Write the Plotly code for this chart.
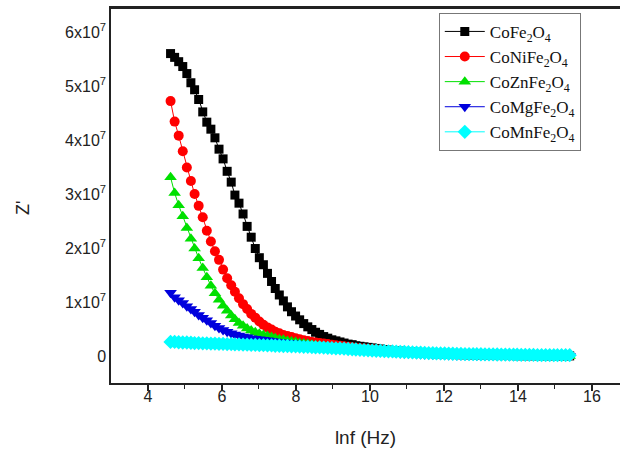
import plotly.graph_objects as go

# ln f values (shared by all series)
lnf = [4.61, 4.72, 4.83, 4.94, 5.05, 5.16, 5.26, 5.37, 5.48, 5.59,
       5.70, 5.81, 5.92, 6.03, 6.14, 6.25, 6.35, 6.46, 6.57, 6.68,
       6.79, 6.90, 7.01, 7.12, 7.23, 7.34, 7.44, 7.55, 7.66, 7.77,
       7.88, 7.99, 8.10, 8.21, 8.32, 8.43, 8.53, 8.64, 8.75, 8.86,
       8.97, 9.08, 9.19, 9.30, 9.41, 9.52, 9.62, 9.73, 9.84, 9.95,
       10.06, 10.17, 10.28, 10.39, 10.50, 10.61, 10.71, 10.82, 10.93, 11.04,
       11.15, 11.26, 11.37, 11.48, 11.59, 11.70, 11.80, 11.91, 12.02, 12.13,
       12.24, 12.35, 12.46, 12.57, 12.68, 12.79, 12.89, 13.00, 13.11, 13.22,
       13.33, 13.44, 13.55, 13.66, 13.77, 13.88, 13.98, 14.09, 14.20, 14.31,
       14.42, 14.53, 14.64, 14.75, 14.86, 14.97, 15.07, 15.18, 15.29, 15.40]

# Z' values in units of 1e7
z_cofe = [5.60, 5.53, 5.45, 5.36, 5.23, 5.06, 4.93, 4.75, 4.52, 4.33,
          4.20, 4.04, 3.83, 3.65, 3.42, 3.22, 2.98, 2.83, 2.63, 2.40,
          2.20, 1.99, 1.82, 1.69, 1.53, 1.38, 1.25, 1.13, 1.02, 0.91,
          0.82, 0.74, 0.67, 0.60, 0.54, 0.49, 0.44, 0.40, 0.36, 0.33,
          0.30, 0.28, 0.26, 0.24, 0.22, 0.21, 0.19, 0.18, 0.17, 0.16,
          0.15, 0.14, 0.13, 0.12, 0.11, 0.10, 0.095, 0.09, 0.085, 0.08,
          0.075, 0.07, 0.065, 0.06, 0.055, 0.05, 0.046, 0.042, 0.038, 0.035,
          0.032, 0.029, 0.026, 0.024, 0.022, 0.020, 0.018, 0.016, 0.015, 0.014,
          0.013, 0.012, 0.011, 0.010, 0.009, 0.008, 0.007, 0.007, 0.006, 0.006,
          0.005, 0.005, 0.004, 0.004, 0.004, 0.003, 0.003, 0.003, 0.002, 0.002]

z_conife = [4.72, 4.34, 4.08, 3.79, 3.49, 3.24, 3.00, 2.78, 2.57, 2.32,
            2.12, 1.94, 1.78, 1.60, 1.44, 1.31, 1.19, 1.07, 0.96, 0.87,
            0.78, 0.71, 0.64, 0.58, 0.53, 0.49, 0.45, 0.42, 0.39, 0.37,
            0.35, 0.33, 0.31, 0.29, 0.28, 0.26, 0.25, 0.24, 0.23, 0.22,
            0.21, 0.20, 0.19, 0.18, 0.17, 0.16, 0.15, 0.145, 0.14, 0.13,
            0.125, 0.12, 0.11, 0.10, 0.095, 0.09, 0.085, 0.08, 0.075, 0.07,
            0.065, 0.06, 0.056, 0.052, 0.048, 0.044, 0.040, 0.037, 0.034, 0.031,
            0.028, 0.026, 0.024, 0.022, 0.020, 0.018, 0.016, 0.015, 0.014, 0.013,
            0.012, 0.011, 0.010, 0.009, 0.008, 0.008, 0.007, 0.007, 0.006, 0.006,
            0.005, 0.005, 0.004, 0.004, 0.004, 0.003, 0.003, 0.003, 0.002, 0.002]

z_coznfe = [3.31, 3.02, 2.79, 2.59, 2.37, 2.17, 1.99, 1.81, 1.63, 1.46,
            1.30, 1.16, 1.04, 0.93, 0.84, 0.75, 0.68, 0.61, 0.56, 0.51,
            0.47, 0.44, 0.41, 0.39, 0.37, 0.35, 0.33, 0.31, 0.30, 0.28,
            0.27, 0.26, 0.24, 0.23, 0.22, 0.21, 0.20, 0.19, 0.18, 0.17,
            0.16, 0.15, 0.14, 0.135, 0.13, 0.12, 0.115, 0.11, 0.10, 0.095,
            0.09, 0.085, 0.08, 0.075, 0.07, 0.065, 0.06, 0.056, 0.052, 0.048,
            0.044, 0.040, 0.037, 0.034, 0.031, 0.028, 0.026, 0.024, 0.022, 0.020,
            0.018, 0.016, 0.015, 0.014, 0.013, 0.012, 0.011, 0.010, 0.009, 0.009,
            0.008, 0.008, 0.007, 0.007, 0.006, 0.006, 0.005, 0.005, 0.005, 0.004,
            0.004, 0.004, 0.003, 0.003, 0.003, 0.003, 0.002, 0.002, 0.002, 0.002]

z_comgfe = [1.17, 1.09, 1.03, 0.98, 0.92, 0.87, 0.82, 0.76, 0.71, 0.66,
            0.61, 0.56, 0.52, 0.48, 0.45, 0.42, 0.40, 0.38, 0.36, 0.345,
            0.33, 0.32, 0.31, 0.30, 0.29, 0.28, 0.27, 0.26, 0.25, 0.24,
            0.235, 0.23, 0.22, 0.21, 0.20, 0.19, 0.185, 0.18, 0.17, 0.16,
            0.155, 0.15, 0.14, 0.13, 0.125, 0.12, 0.11, 0.105, 0.10, 0.095,
            0.09, 0.085, 0.08, 0.075, 0.07, 0.065, 0.06, 0.056, 0.052, 0.048,
            0.044, 0.040, 0.037, 0.034, 0.031, 0.028, 0.026, 0.024, 0.022, 0.020,
            0.018, 0.016, 0.015, 0.014, 0.013, 0.012, 0.011, 0.010, 0.009, 0.009,
            0.008, 0.008, 0.007, 0.007, 0.006, 0.006, 0.005, 0.005, 0.005, 0.004,
            0.004, 0.004, 0.003, 0.003, 0.003, 0.003, 0.002, 0.002, 0.002, 0.002]

z_comnfe = [0.26, 0.26, 0.255, 0.25, 0.25, 0.245, 0.24, 0.24, 0.235, 0.235,
            0.23, 0.23, 0.225, 0.225, 0.22, 0.22, 0.215, 0.215, 0.21, 0.21,
            0.205, 0.205, 0.20, 0.20, 0.195, 0.195, 0.19, 0.19, 0.185, 0.185,
            0.18, 0.18, 0.175, 0.17, 0.17, 0.165, 0.16, 0.16, 0.155, 0.15,
            0.145, 0.14, 0.14, 0.135, 0.13, 0.125, 0.12, 0.115, 0.11, 0.105,
            0.10, 0.097, 0.094, 0.09, 0.087, 0.084, 0.08, 0.077, 0.074, 0.07,
            0.067, 0.064, 0.061, 0.058, 0.055, 0.052, 0.05, 0.048, 0.046, 0.044,
            0.042, 0.04, 0.038, 0.036, 0.035, 0.034, 0.033, 0.032, 0.031, 0.030,
            0.029, 0.028, 0.027, 0.026, 0.025, 0.024, 0.023, 0.022, 0.021, 0.020,
            0.019, 0.018, 0.018, 0.017, 0.017, 0.016, 0.016, 0.015, 0.015, 0.015]

series_names = ["CoFe<sub>2</sub>O<sub>4</sub>", "CoNiFe<sub>2</sub>O<sub>4</sub>",
                "CoZnFe<sub>2</sub>O<sub>4</sub>", "CoMgFe<sub>2</sub>O<sub>4</sub>",
                "CoMnFe<sub>2</sub>O<sub>4</sub>"]
series_values = [z_cofe, z_conife, z_coznfe, z_comgfe, z_comnfe]
colors = ["#000000", "#ff0000", "#00e000", "#0000dd", "#00ffff"]
symbols = ["square", "circle", "triangle-up", "triangle-down", "diamond"]
sizes = [9, 10, 11, 11, 11]

ytick_vals = [0, 1, 2, 3, 4, 5, 6]
ytick_text = ["0"] + [f"{v}x10<sup>7</sup>" for v in ytick_vals[1:]]
SCALE = 1e7

fig = go.Figure()
for name, vals, c, s, sz in zip(series_names, series_values, colors, symbols, sizes):
    fig.add_trace(go.Scatter(
        x=lnf, y=[v * SCALE for v in vals], name=name, mode="lines+markers",
        line=dict(color=c, width=1),
        marker=dict(symbol=s, size=sz, color=c, line=dict(width=0)),
    ))

fig.update_layout(
    width=620, height=453,
    margin=dict(l=111, r=0, t=8, b=70, autoexpand=False),
    paper_bgcolor="white", plot_bgcolor="white",
    font=dict(family="Liberation Sans, Arial, sans-serif", color="#222", size=15),
    showlegend=True,
    legend=dict(
        x=0.644, y=0.987, xanchor="left", yanchor="top",
        bgcolor="white", bordercolor="#777", borderwidth=1,
        font=dict(family="Liberation Serif, Times New Roman, serif", size=17, color="#111"),
        itemwidth=40, tracegroupgap=0,
    ),
    xaxis=dict(
        range=[3, 16.76], showgrid=False, zeroline=False, automargin=False,
        showline=True, linecolor="#222", linewidth=1.5, mirror=True,
        ticks="outside", ticklen=6, tickwidth=1.5, tickcolor="#222",
        tickvals=[4, 6, 8, 10, 12, 14, 16],
        minor=dict(ticks="outside", ticklen=4, tickwidth=1.2, tickcolor="#222",
                   tickvals=[5, 7, 9, 11, 13, 15]),
        tickfont=dict(size=16), ticklabelstandoff=-8,
        title=dict(text="lnf (Hz)", font=dict(size=19), standoff=27),
    ),
    yaxis=dict(
        range=[-0.5e7, 6.444e7], showgrid=False, zeroline=False, automargin=False,
        showline=True, linecolor="#222", linewidth=1.5,
        ticks="", tickvals=[v * SCALE for v in ytick_vals], ticktext=ytick_text,
        tickfont=dict(size=16),
    ),
    shapes=[dict(type="line", xref="paper", yref="paper", x0=-0.002, x1=1, y0=1, y1=1,
                 line=dict(color="#222", width=2))],
    annotations=[dict(
        text="Z'", xref="paper", yref="paper",
        x=(23 - 111) / 509, y=(383 - 208) / 375,
        xanchor="center", yanchor="middle", textangle=-90,
        showarrow=False, font=dict(size=18, color="#222"),
    )],
)

fig.write_html(
    "out.html",
    config={"displayModeBar": False},
    post_script=("document.documentElement.style.margin='0';"
                 "document.body.style.margin='0';document.body.style.padding='0';"
                 "window.scrollTo(0,0);"),
)
